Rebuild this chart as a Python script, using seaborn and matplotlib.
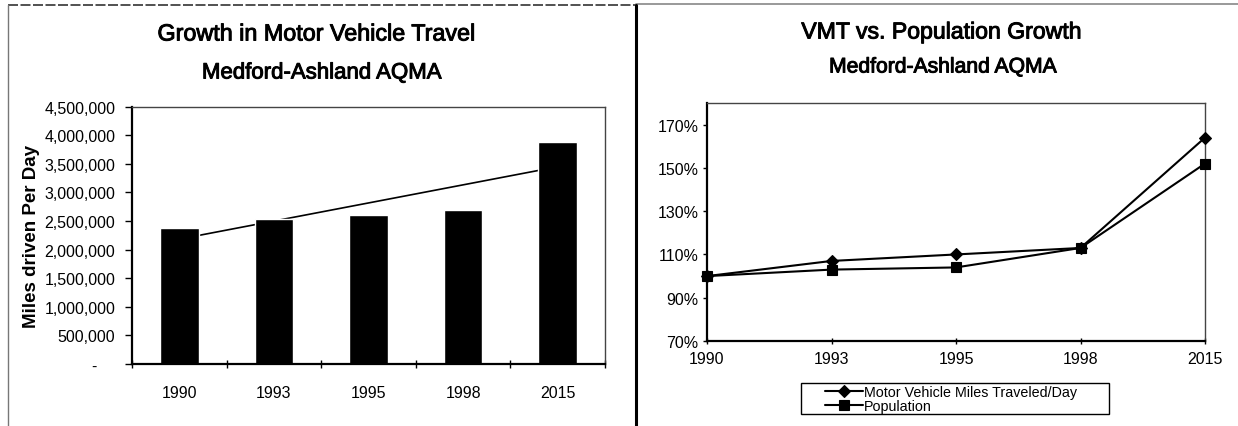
import numpy as np
import pandas as pd
import matplotlib
matplotlib.use("Agg")
import matplotlib.pyplot as plt
from matplotlib import font_manager
from matplotlib.lines import Line2D
from matplotlib.ticker import FuncFormatter, MultipleLocator
from matplotlib.legend_handler import HandlerLine2D
import matplotlib.patheffects as pe
import seaborn as sns

# ---- data ----
years = ["1990", "1993", "1995", "1998", "2015"]
miles_per_day = [2372000, 2535000, 2605000, 2690000, 3876000]
vmt_index = [100, 107, 110, 113, 164]          # percent of 1990
population_index = [100, 103, 104, 113, 152]   # percent of 1990
series_names = ["Motor Vehicle Miles Traveled/Day", "Population"]

sns.set_theme(style="white")
plt.rcParams["font.family"] = ["Liberation Sans", "DejaVu Sans"]
plt.rcParams["axes.unicode_minus"] = False


def has_font(name):
    try:
        font_manager.findfont(name, fallback_to_default=False)
        return True
    except Exception:
        return False


if has_font("Liberation Sans Narrow"):
    legend_family, legend_size = ["Liberation Sans Narrow", "Liberation Sans"], 12.5
else:
    legend_family, legend_size = ["Liberation Sans", "DejaVu Sans"], 10.3

W, H = 1238, 427
fig = plt.figure(figsize=(W / 100, H / 100), dpi=100)
fig.patch.set_facecolor("white")


def fx(px):
    return px / W


def fy(px):
    return 1 - px / H


heavy = [pe.withStroke(linewidth=0.7, foreground="black")]
tick_size = 11.5

# ---- panel frame ----
fig.add_artist(Line2D([fx(8), fx(636)], [fy(6), fy(6)], transform=fig.transFigure,
                      color="#333333", lw=1.2, ls=(0, (6, 1.5))))
fig.add_artist(Line2D([fx(636), 1], [fy(5), fy(5)], transform=fig.transFigure,
                      color="#888888", lw=1.2))
fig.add_artist(Line2D([fx(8), fx(8)], [0, fy(6)], transform=fig.transFigure,
                      color="#777777", lw=1.0))
fig.add_artist(Line2D([fx(636), fx(636)], [0, fy(6)], transform=fig.transFigure,
                      color="black", lw=2.2))

# ---- left: miles driven per day ----
ax1_left, ax1_right = 132, 605
ax1 = fig.add_axes([fx(ax1_left), fy(365), fx(ax1_right) - fx(ax1_left), fy(107.6) - fy(365)])
bars = pd.DataFrame({"year": years, "miles": miles_per_day})
sns.barplot(data=bars, x="year", y="miles", color="black", saturation=1,
            width=0.41, ax=ax1, zorder=2)
# linear trend across the five categories, drawn behind the bars
sns.regplot(x=np.arange(len(years)), y=np.array(miles_per_day, dtype=float), ax=ax1,
            scatter=False, ci=None, truncate=True, color="black",
            line_kws={"lw": 1.2, "zorder": 1})
ax1.set_xlim(-0.5, len(years) - 0.5)
ax1.set_ylim(0, 4500000)
ax1.yaxis.set_major_locator(MultipleLocator(500000))
ax1.yaxis.set_major_formatter(FuncFormatter(lambda v, p: "-    " if v == 0 else f"{v:,.0f}"))
ax1.set_xticks(range(len(years)))
ax1.set_xticklabels(years)
ax1.set_xticks(np.arange(-0.5, len(years), 1), minor=True)
ax1.tick_params(axis="x", which="major", length=0, pad=15, labelsize=tick_size, labelcolor="black")
ax1.tick_params(axis="x", which="minor", length=6, width=1, direction="inout", color="black", bottom=True)
ax1.tick_params(axis="y", which="major", length=5, width=1, direction="out", color="black",
                pad=7, labelsize=tick_size, labelcolor="black", left=True)
ax1.set_xlabel("")
ax1.set_ylabel("Miles driven Per Day", fontsize=13.5, fontweight="bold", color="black")
ax1.yaxis.set_label_coords((40 - ax1_left) / (ax1_right - ax1_left), 0.5)
for side in ("left", "bottom"):
    ax1.spines[side].set_color("black")
    ax1.spines[side].set_linewidth(1.6)
for side in ("top", "right"):
    ax1.spines[side].set_color("#444444")
    ax1.spines[side].set_linewidth(1.0)

fig.text(fx(317), fy(35), "Growth in Motor Vehicle Travel", ha="center", va="center",
         fontsize=16.8, color="black", path_effects=heavy)
fig.text(fx(322), fy(74), "Medford-Ashland AQMA", ha="center", va="center",
         fontsize=16, color="black", path_effects=heavy)

# ---- right: VMT vs population index ----
ax2 = fig.add_axes([fx(707), fy(342), fx(1205) - fx(707), fy(104) - fy(342)])
pos = np.arange(len(years))
lines = pd.DataFrame({
    "pos": np.concatenate([pos, pos]),
    "value": vmt_index + population_index,
    "series": [series_names[0]] * len(years) + [series_names[1]] * len(years),
})
sns.lineplot(data=lines, x="pos", y="value", hue="series", style="series",
             palette={series_names[0]: "black", series_names[1]: "black"},
             markers={series_names[0]: "D", series_names[1]: "s"},
             dashes=False, lw=1.5, markersize=6.5, markeredgecolor="black",
             markeredgewidth=0.8, ax=ax2, legend=True, clip_on=False, zorder=3)
handles, labels = ax2.get_legend_handles_labels()
ax2.get_legend().remove()
ax2.set_xlim(0, len(years) - 1)
ax2.set_ylim(70, 180)
ax2.set_yticks(np.arange(70, 171, 20))
ax2.yaxis.set_major_formatter(FuncFormatter(lambda v, p: f"{v:.0f}%"))
ax2.set_xticks(pos)
ax2.set_xticklabels(years)
ax2.tick_params(axis="x", length=5, width=1, direction="inout", color="black", pad=5,
                labelsize=tick_size, labelcolor="black", bottom=True)
ax2.tick_params(axis="y", length=3, width=1, direction="out", color="black", pad=3,
                labelsize=tick_size, labelcolor="black", left=True)
ax2.set_xlabel("")
ax2.set_ylabel("")
for side in ("left", "bottom"):
    ax2.spines[side].set_color("black")
    ax2.spines[side].set_linewidth(1.6)
for side in ("top", "right"):
    ax2.spines[side].set_color("#444444")
    ax2.spines[side].set_linewidth(1.0)

fig.text(fx(941), fy(33), "VMT vs. Population Growth", ha="center", va="center",
         fontsize=16.6, color="black", path_effects=heavy)
fig.text(fx(943), fy(68), "Medford-Ashland AQMA", ha="center", va="center",
         fontsize=15.2, color="black", path_effects=heavy)

fs_px = legend_size * 100 / 72
leg = fig.legend(handles, labels, loc="upper left",
                 bbox_to_anchor=(fx(801), fy(421), fx(1109) - fx(801), fy(384) - fy(421)),
                 bbox_transform=fig.transFigure, mode="expand", ncol=1,
                 frameon=True, fancybox=False, framealpha=1, edgecolor="black",
                 borderpad=0.12, labelspacing=0.0, handlelength=60 / fs_px,
                 handletextpad=0.1, borderaxespad=0.0,
                 handler_map={h: HandlerLine2D(xpad=22 / fs_px) for h in handles},
                 prop={"family": legend_family, "size": legend_size})
leg.get_frame().set_linewidth(1.0)
for t in leg.get_texts():
    t.set_color("black")

fig.savefig("out.png", dpi=100, facecolor="white")
